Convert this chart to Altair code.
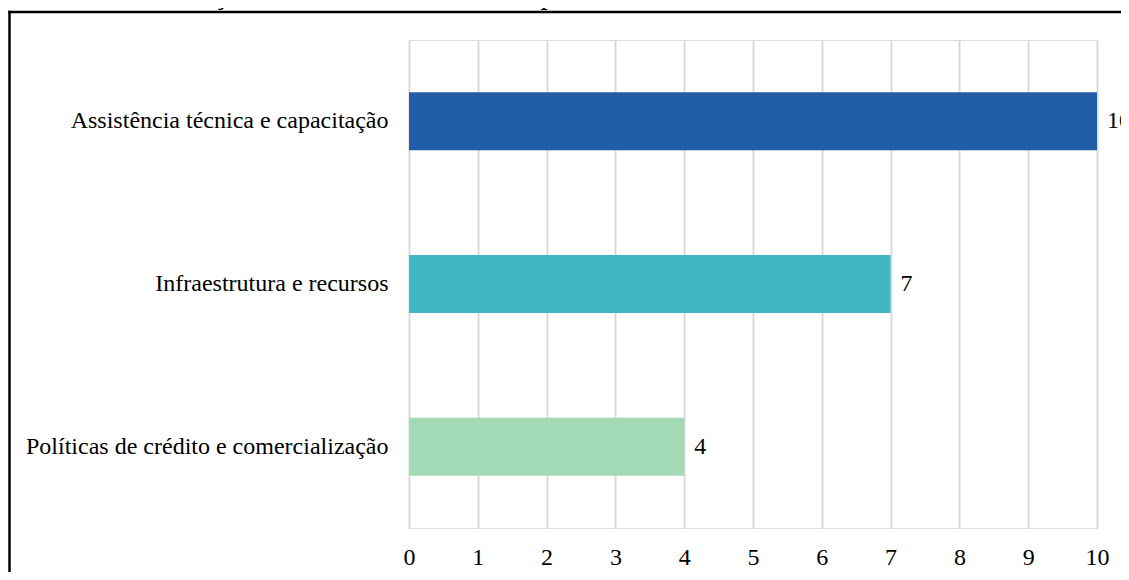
import altair as alt
import pandas as pd

categories = ["Assistência técnica e capacitação", "Infraestrutura e recursos", "Políticas de crédito e comercialização"]
values = [10, 7, 4]
colors = ["#225ea8", "#41b6c4", "#a1dab4"]
title_text = "Gráfico 20: Avaliação das demandas relatadas pelas comunidades dos assentamentos."

df = pd.DataFrame({"cat": categories, "val": values, "color": colors})
FONT = "Liberation Serif"

y_enc = alt.Y("cat:N", sort=categories, title=None,
              scale=alt.Scale(paddingInner=0, paddingOuter=0),
              axis=alt.Axis(domain=False, ticks=False, labelFont=FONT, labelFontSize=24,
                            labelColor="black", labelPadding=21, labelLimit=600))
x_enc = alt.X("val:Q", title=None,
              scale=alt.Scale(domain=[0, 10], nice=False),
              axis=alt.Axis(values=list(range(11)), format="d", domain=False, ticks=False,
                            grid=True, gridColor="#d9d9d9", gridWidth=2, labelFlush=False,
                            labelFont=FONT, labelFontSize=24, labelColor="black",
                            labelPadding=17))

bars = alt.Chart(df).mark_bar(size=58).encode(
    x=x_enc, y=y_enc, color=alt.Color("color:N", scale=None)
)
labels = alt.Chart(df).mark_text(align="left", baseline="middle", dx=10,
                                 font=FONT, fontSize=24, color="black").encode(
    x="val:Q", y=alt.Y("cat:N", sort=categories), text="val:Q"
)

frame_df = pd.DataFrame({"t": [title_text]})
left_rule = alt.Chart(frame_df).mark_rule(color="black", strokeWidth=2.5, clip=False).encode(
    x=alt.value(-399.5), y=alt.value(-29.25), y2=alt.value(600)
)
top_rule = alt.Chart(frame_df).mark_rule(color="black", strokeWidth=2.5, clip=False).encode(
    x=alt.value(-400.75), x2=alt.value(800), y=alt.value(-28)
)
title = alt.Chart(frame_df).mark_text(align="left", baseline="alphabetic", font=FONT,
                                      fontSize=29, color="black", clip=False).encode(
    x=alt.value(-409), y=alt.value(-36), text="t:N"
)

chart = alt.layer(bars, labels, left_rule, top_rule, title).properties(
    width=688, height=488,
    autosize=alt.AutoSizeParams(type="none"),
    padding={"left": 401, "top": 32, "right": 24, "bottom": 44},
).configure_view(stroke=None).configure(background="white")

chart.save("out.html", embed_options={"renderer": "svg", "actions": False})
